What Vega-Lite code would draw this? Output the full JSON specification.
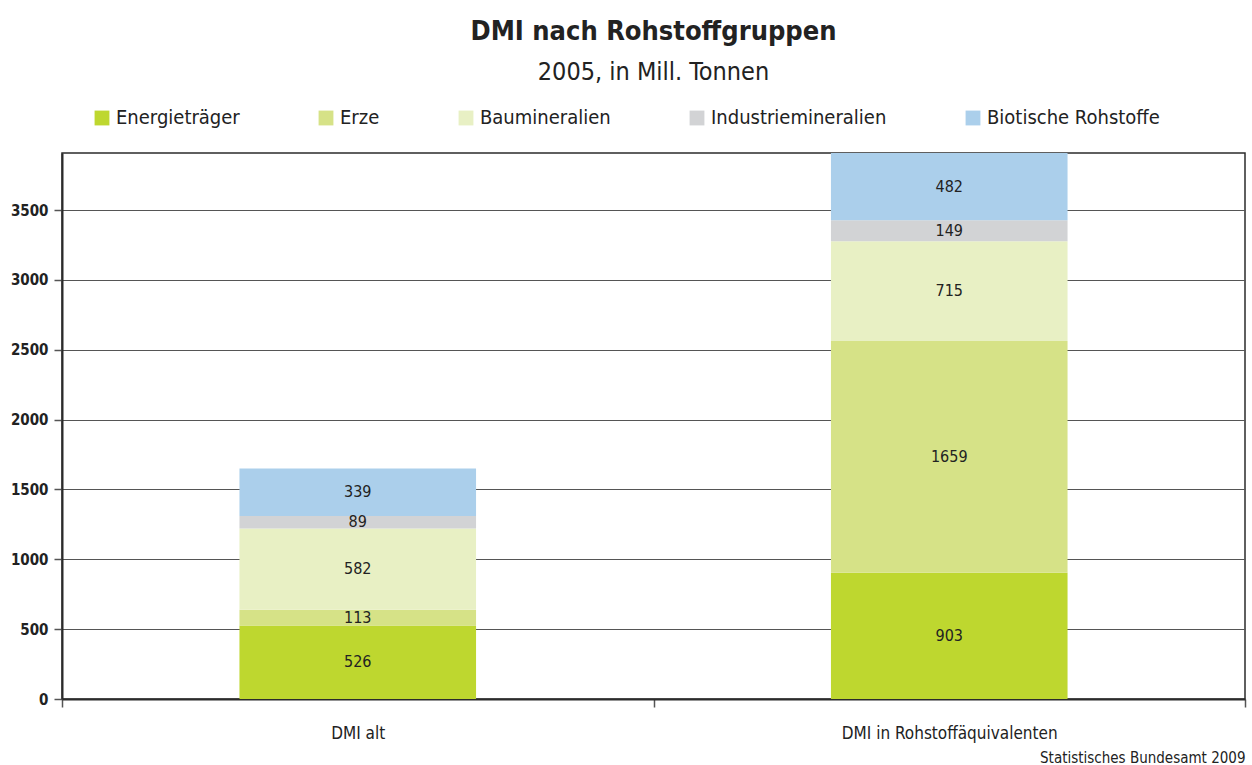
{
  "$schema": "https://vega.github.io/schema/vega-lite/v6.json",
  "autosize": "none",
  "width": 1183,
  "height": 546,
  "padding": {"left": 62, "top": 153, "right": 7, "bottom": 66},
  "background": "white",
  "config": {
    "font": "DejaVu Sans Condensed, Liberation Sans Narrow, Roboto, sans-serif",
    "view": {"stroke": "#2b2b2b", "strokeWidth": 1.5}
  },
  "title": {
    "text": "DMI nach Rohstoffgruppen",
    "subtitle": "2005, in Mill. Tonnen",
    "fontSize": 27,
    "fontWeight": "bold",
    "color": "#222222",
    "subtitleFontSize": 25,
    "subtitleColor": "#222222",
    "subtitlePadding": 14,
    "anchor": "middle",
    "offset": 22
  },
  "data": {
    "values": [
      {"kategorie": "DMI alt", "gruppe": "Energieträger", "rang": 1, "wert": 526},
      {"kategorie": "DMI alt", "gruppe": "Erze", "rang": 2, "wert": 113},
      {"kategorie": "DMI alt", "gruppe": "Baumineralien", "rang": 3, "wert": 582},
      {"kategorie": "DMI alt", "gruppe": "Industriemineralien", "rang": 4, "wert": 89},
      {"kategorie": "DMI alt", "gruppe": "Biotische Rohstoffe", "rang": 5, "wert": 339},
      {"kategorie": "DMI in Rohstoffäquivalenten", "gruppe": "Energieträger", "rang": 1, "wert": 903},
      {"kategorie": "DMI in Rohstoffäquivalenten", "gruppe": "Erze", "rang": 2, "wert": 1659},
      {"kategorie": "DMI in Rohstoffäquivalenten", "gruppe": "Baumineralien", "rang": 3, "wert": 715},
      {"kategorie": "DMI in Rohstoffäquivalenten", "gruppe": "Industriemineralien", "rang": 4, "wert": 149},
      {"kategorie": "DMI in Rohstoffäquivalenten", "gruppe": "Biotische Rohstoffe", "rang": 5, "wert": 482}
    ]
  },
  "encoding": {
    "x": {
      "field": "kategorie",
      "type": "nominal",
      "sort": null,
      "scale": {"paddingInner": 0, "paddingOuter": 0},
      "axis": {
        "title": "Statistisches Bundesamt 2009",
        "titleAnchor": "end",
        "titleAlign": "right",
        "titleFontSize": 15,
        "titleFontWeight": "normal",
        "titleColor": "#222222",
        "titlePadding": 9,
        "labelAngle": 0,
        "labelFontSize": 17,
        "labelColor": "#222222",
        "labelPadding": 18,
        "labelLimit": 500,
        "tickBand": "extent",
        "tickSize": 8,
        "tickColor": "#555555",
        "tickWidth": 1.5,
        "domainColor": "#2b2b2b",
        "domainWidth": 2,
        "grid": false
      }
    },
    "y": {
      "field": "wert",
      "type": "quantitative",
      "stack": "zero",
      "scale": {"domain": [0, 3908], "nice": false},
      "axis": {
        "title": null,
        "values": [0, 500, 1000, 1500, 2000, 2500, 3000, 3500],
        "format": "d",
        "labelFontSize": 15,
        "labelFontWeight": "bold",
        "labelColor": "#222222",
        "labelPadding": 6,
        "tickSize": 8,
        "tickColor": "#555555",
        "tickWidth": 1.5,
        "domainColor": "#2b2b2b",
        "domainWidth": 2,
        "grid": true,
        "gridColor": "#555555",
        "gridWidth": 1.2
      }
    },
    "order": {"field": "rang", "type": "quantitative", "sort": "ascending"}
  },
  "layer": [
    {
      "mark": {"type": "bar", "width": {"band": 0.4}},
      "encoding": {
        "color": {
          "field": "gruppe",
          "type": "nominal",
          "scale": {
            "domain": ["Energieträger", "Erze", "Baumineralien", "Industriemineralien", "Biotische Rohstoffe"],
            "range": ["#bed72f", "#d6e287", "#e8f0c4", "#d2d3d5", "#abcfeb"]
          },
          "legend": {
            "title": null,
            "orient": "none",
            "direction": "horizontal",
            "legendX": 30,
            "legendY": -45,
            "symbolType": "square",
            "symbolSize": 220,
            "symbolStrokeWidth": 0,
            "labelFontSize": 20,
            "labelColor": "#222222",
            "labelOffset": 4,
            "columnPadding": 76,
            "labelLimit": 300
          }
        }
      }
    },
    {
      "mark": {"type": "text", "fontSize": 16, "color": "#222222"},
      "encoding": {
        "y": {"field": "wert", "type": "quantitative", "stack": "zero", "bandPosition": 0.5},
        "detail": {"field": "gruppe"},
        "text": {"field": "wert", "type": "quantitative"}
      }
    }
  ]
}
